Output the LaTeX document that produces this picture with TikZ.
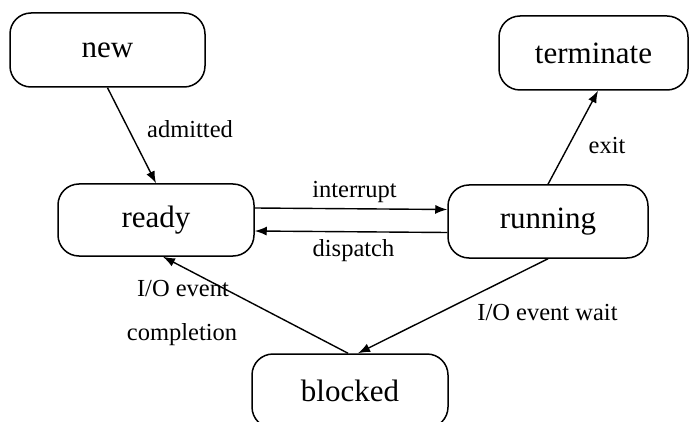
\documentclass[tikz,border=0pt]{standalone}
\usepackage{fontspec}
\setmainfont{Liberation Serif}
\usetikzlibrary{arrows.meta,calc}
\begin{document}
\begin{tikzpicture}[x=1pt,y=-1pt,
  state/.style={draw, line width=1.5pt, rounded corners=21pt, inner sep=0pt,
    font=\fontsize{31}{36}\selectfont},
  lbl/.style={font=\fontsize{24.5}{28}\selectfont, inner sep=0pt},
  conn/.style={line width=1.4pt, -{Latex[length=12pt,width=9pt]}}]
\clip (0,0) rectangle (690,422);
\fill[white] (0,0) rectangle (690,422);
\node[state, minimum width=195pt, minimum height=74pt] (new) at (107.5,50) {new};
\node[state, minimum width=196pt, minimum height=72pt] (ready) at (156,220) {ready};
\node[state, minimum width=189pt, minimum height=74pt] (term) at (593.5,53) {terminate};
\node[state, minimum width=200pt, minimum height=73pt] (run) at (548,221.5) {running};
\node[state, minimum width=196pt, minimum height=74pt] (blk) at (350,391) {blocked};
\coordinate (termin) at ($(term.south)+(4.5,0)$);
\coordinate (readyin) at ($(ready.south)+(7,0)$);
\coordinate (blkin) at ($(blk.north)+(8,0)$);
\coordinate (blkout) at ($(blk.north)+(-2,0)$);
\draw[conn] (new.south) -- (ready.north);
\draw[conn] (run.north) -- (termin);
\draw[conn] ([yshift=12pt]ready.east) -- ([yshift=12pt]run.west);
\draw[conn] ([yshift=-11pt]run.west) -- ([yshift=-11pt]ready.east);
\draw[conn] (blkout) -- (readyin);
\draw[conn] (run.south) -- (blkin);
\node[lbl] (ladm) at (190,129) {admitted};
\node[lbl] (lexit) at (607,146) {exit};
\node[lbl] (lint) at (354.5,192) {interrupt};
\node[lbl] (ldis) at (353.5,251) {dispatch};
\node[lbl] (lio) at (183,289) {I/O event};
\node[lbl] (lcomp) at (182,335) {completion};
\node[lbl] (lwait) at (547.5,313) {I/O event wait};
\end{tikzpicture}
\end{document}
